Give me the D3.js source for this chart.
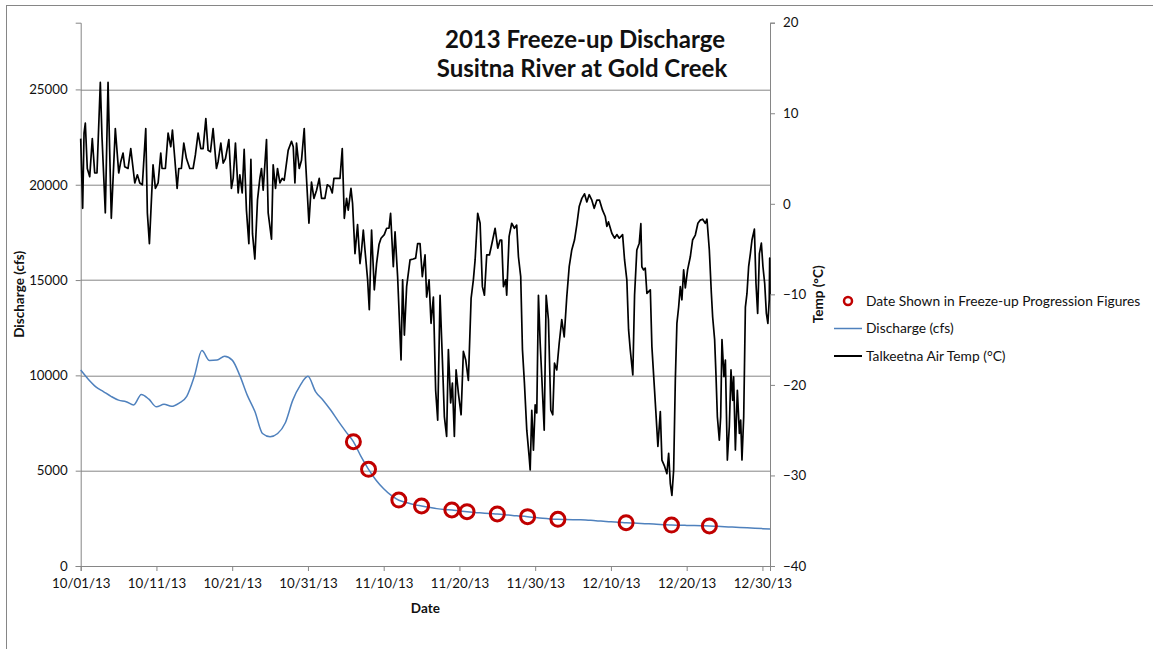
<!DOCTYPE html>
<html>
<head>
<meta charset="utf-8">
<script src="https://cdn.jsdelivr.net/npm/d3@7"></script>
<style>
  body { margin: 0; background: #fff; }
  text { font-family: Lato, "Open Sans", sans-serif; fill: #111; }
</style>
</head>
<body>
<svg id="chart" width="1153" height="649"></svg>
<script>
// ---- data ----
var startDate = new Date(2013, 9, 1);
var endDate = new Date(2013, 11, 31);

var dateTicks = ["10/01/13", "10/11/13", "10/21/13", "10/31/13", "11/10/13",
  "11/20/13", "11/30/13", "12/10/13", "12/20/13", "12/30/13"];
var cfsTicks = [0, 5000, 10000, 15000, 20000, 25000];
var tempTicks = [-40, -30, -20, -10, 0, 10, 20];

// daily discharge (cfs), starting 10/01/13
var flowCfs = [10280, 9800, 9400, 9150, 8900, 8700, 8620, 8450, 9000, 8750,
  8350, 8480, 8380, 8550, 8900, 9950, 11300, 10780, 10800, 11000,
  10800, 10000, 8950, 8100, 6950, 6780, 6950, 7500, 8700, 9490,
  9950, 9150, 8700, 8180, 7600, 7050, 6520, 5750, 5070, 4500,
  4050, 3700, 3450, 3330, 3220, 3150, 3080, 3010, 2960, 2935,
  2890, 2850, 2810, 2780, 2750, 2725, 2690, 2650, 2620, 2585,
  2540, 2500, 2470, 2450, 2440, 2430, 2420, 2400, 2380, 2350,
  2320, 2300, 2270, 2250, 2230, 2210, 2190, 2170, 2150, 2140,
  2130, 2120, 2110, 2100, 2080, 2060, 2040, 2020, 2000, 1980,
  1960, 1940];

// dates shown in freeze-up progression figures (days after 10/01) and discharge
var markDay = [36, 38, 42, 45, 49, 51, 55, 59, 63, 72, 78, 83];
var markCfs = [6520, 5070, 3460, 3150, 2940, 2850, 2730, 2590, 2450, 2270, 2150, 2100];

// Talkeetna air temp: [days after 10/01, deg C]
var tempReadings = [
  [0.00,7.2],[0.26,-0.5],[0.44,7.8],[0.61,8.9],[0.87,3.9],[1.19,3.0],[1.53,7.2],[1.85,3.4],[2.15,3.4],[2.59,13.4],
  [2.81,7.4],[3.25,-1.0],[3.61,13.4],[4.04,-1.6],[4.57,8.3],[5.02,3.4],[5.29,4.65],[5.59,5.6],[5.81,4.1],[6.25,3.9],
  [6.61,6.1],[7.14,2.3],[7.48,3.2],[7.80,2.3],[8.14,2.1],[8.59,8.3],[8.80,-1.0],[9.07,-4.4],[9.55,4.3],[9.86,1.7],
  [10.22,2.3],[10.57,5.6],[10.74,3.9],[11.18,3.9],[11.54,7.8],[11.89,6.3],[12.11,8.15],[12.42,5.0],[12.73,1.7],[12.95,3.9],
  [13.29,3.9],[13.61,6.7],[13.96,5.0],[14.40,3.9],[14.84,3.9],[15.14,5.4],[15.50,7.8],[15.86,6.1],[16.16,6.1],[16.52,9.4],
  [16.82,5.9],[17.13,5.75],[17.48,8.3],[17.92,3.9],[18.14,4.65],[18.50,6.7],[18.81,4.5],[19.11,5.0],[19.56,7.1],[19.90,1.7],
  [20.13,2.8],[20.43,6.7],[20.79,1.2],[21.01,3.2],[21.32,1.2],[21.58,6.0],[21.88,-0.7],[22.20,-4.4],[22.47,4.9],[22.68,-3.3],
  [22.99,-6.1],[23.34,0.4],[23.65,2.8],[23.87,3.9],[24.09,1.5],[24.53,7.1],[24.75,-1.0],[25.19,-3.9],[25.41,4.3],[25.72,1.7],
  [25.98,3.9],[26.30,2.3],[26.60,2.8],[26.87,2.6],[27.39,5.9],[27.83,6.9],[28.06,6.3],[28.28,2.3],[28.49,6.7],[28.85,3.9],
  [29.15,4.8],[29.51,8.3],[29.68,4.8],[30.13,-2.15],[30.47,2.4],[30.79,0.6],[31.14,1.5],[31.49,2.8],[31.80,0.6],[32.24,0.6],
  [32.55,2.1],[32.91,1.9],[33.21,1.2],[33.43,2.8],[33.78,2.8],[34.23,2.8],[34.53,6.1],[34.80,-1.6],[35.10,0.6],[35.32,-0.7],
  [35.68,1.7],[35.89,0.05],[36.21,-5.5],[36.55,-2.3],[36.87,-6.6],[37.08,-5.1],[37.31,-2.9],[37.53,-5.1],[37.88,-8.4],[38.10,-11.7],
  [38.40,-2.9],[38.76,-9.5],[39.06,-6.6],[39.38,-4.5],[39.65,-3.8],[40.08,-3.4],[40.39,-2.7],[40.70,-2.7],[40.91,-1.05],[41.27,-6.95],
  [41.50,-3.1],[41.84,-8.05],[42.29,-17.25],[42.50,-8.4],[42.73,-14.5],[43.03,-9.15],[43.48,-6.2],[43.91,-6.1],[44.22,-6.0],[44.48,-4.4],
  [44.80,-4.4],[45.10,-8.05],[45.46,-5.65],[45.67,-10.3],[45.99,-8.4],[46.25,-13.2],[46.56,-10.3],[46.86,-20.6],[47.13,-23.9],[47.44,-10.1],
  [47.75,-17.25],[48.01,-23.5],[48.31,-25.7],[48.54,-16.1],[48.84,-22.0],[49.07,-19.8],[49.33,-25.7],[49.56,-18.35],[49.86,-20.9],[50.22,-23.3],
  [50.52,-16.3],[50.83,-17.25],[51.18,-19.5],[51.54,-10.45],[51.84,-8.4],[52.07,-6.2],[52.41,-1.05],[52.73,-2.15],[53.03,-9.15],[53.30,-10.1],
  [53.60,-5.65],[53.96,-5.65],[54.26,-4.5],[54.71,-2.7],[55.06,-4.9],[55.37,-4.0],[55.58,-4.0],[55.81,-9.15],[56.11,-8.4],[56.24,-10.1],
  [56.56,-3.6],[56.90,-2.15],[57.26,-2.7],[57.56,-2.35],[57.79,-5.85],[58.09,-8.05],[58.32,-16.1],[58.58,-19.8],[58.89,-25.0],[59.20,-27.9],
  [59.34,-29.4],[59.55,-22.8],[59.77,-27.2],[60.00,-22.2],[60.21,-23.1],[60.43,-10.1],[60.66,-15.4],[60.87,-19.1],[61.19,-25.0],[61.45,-10.1],
  [61.75,-12.8],[62.06,-22.8],[62.32,-23.3],[62.55,-17.6],[62.85,-18.35],[63.17,-15.4],[63.51,-12.8],[63.83,-14.7],[64.17,-10.3],[64.49,-6.95],
  [64.83,-5.1],[65.19,-4.0],[65.49,-2.35],[65.81,-0.3],[66.16,0.6],[66.51,1.1],[66.82,0.2],[67.13,1.0],[67.48,0.4],[67.79,-0.5],
  [68.14,0.4],[68.49,0.4],[68.89,-0.7],[69.25,-1.4],[69.46,-2.5],[69.68,-2.0],[70.12,-3.25],[70.48,-3.8],[70.78,-3.4],[71.10,-3.8],
  [71.54,-3.4],[71.80,-6.2],[72.10,-8.4],[72.33,-13.9],[72.55,-16.1],[72.89,-18.9],[73.12,-10.1],[73.42,-5.1],[73.74,-4.35],[73.95,-2.2],
  [74.08,-6.95],[74.30,-7.3],[74.53,-7.1],[74.75,-9.9],[75.20,-9.5],[75.41,-15.8],[75.76,-20.6],[75.94,-23.1],[76.20,-26.8],[76.52,-22.95],
  [76.73,-28.3],[77.09,-29.0],[77.39,-29.8],[77.62,-27.55],[77.84,-30.9],[78.05,-32.2],[78.28,-29.4],[78.50,-19.5],[78.71,-13.2],[78.94,-11.4],
  [79.16,-9.15],[79.37,-10.6],[79.60,-7.3],[79.82,-9.3],[80.12,-7.3],[80.48,-5.85],[80.78,-4.0],[81.14,-3.45],[81.48,-2.15],[81.80,-1.8],
  [82.11,-1.7],[82.46,-2.15],[82.68,-1.7],[82.99,-5.1],[83.26,-9.9],[83.43,-12.5],[83.69,-15.0],[83.86,-18.7],[84.05,-23.5],[84.31,-26.1],
  [84.49,-23.5],[84.66,-15.0],[84.92,-19.1],[85.11,-17.25],[85.37,-28.3],[85.63,-24.6],[85.85,-18.35],[86.07,-21.7],[86.20,-19.1],[86.43,-27.2],
  [86.69,-20.6],[86.96,-25.35],[87.13,-23.9],[87.30,-28.3],[87.53,-23.5],[87.75,-11.4],[87.96,-9.9],[88.18,-6.95],[88.41,-5.5],[88.62,-4.0],
  [88.94,-2.8],[89.15,-8.8],[89.37,-12.1],[89.60,-5.5],[89.86,-4.35],[90.07,-6.95],[90.30,-8.8],[90.52,-12.1],[90.72,-13.2],[90.90,-10.6],
  [90.96,-6.0],[91.00,-10.0]
];

var seriesNames = ["Date Shown in Freeze-up Progression Figures", "Discharge (cfs)", "Talkeetna Air Temp (\u00b0C)"];

// ---- drawing ----
var svg = d3.select('#chart'),
	margin = { top: 22.7, right: 383, bottom: 83, left: 80.7 },
	width = +svg.attr('width') - margin.left - margin.right,
	height = +svg.attr('height') - margin.top - margin.bottom;

var axisGrey = '#868686', blue = '#4F81BD', red = '#C00000';

// chart-area frame
svg.append('rect')
	.attr('x', 6.5).attr('y', 5.5)
	.attr('width', 1300).attr('height', 800)
	.attr('fill', 'none').attr('stroke', axisGrey).attr('stroke-width', 1);

var g = svg.append('g').attr('transform', 'translate(' + margin.left + ',' + margin.top + ')');

var dayToDate = function (d) { return new Date(startDate.getTime() + d * 864e5); };
var parseTick = d3.timeParse('%m/%d/%y');

var x = d3.scaleTime().domain([startDate, endDate]).range([0, width]);
var yQ = d3.scaleLinear().domain([0, 28500]).range([height, 0]);
var yT = d3.scaleLinear().domain([-40, 20]).range([height, 0]);

// gridlines
g.append('g').selectAll('line')
	.data(cfsTicks.filter(function (v) { return v > 0; }))
	.enter().append('line')
	.attr('x1', 0).attr('x2', width)
	.attr('y1', function (v) { return Math.round(yQ(v)) + 0.5; })
	.attr('y2', function (v) { return Math.round(yQ(v)) + 0.5; })
	.attr('stroke', axisGrey).attr('stroke-width', 1);

function styleAxis(sel) {
	sel.select('.domain').attr('stroke', axisGrey);
	sel.selectAll('.tick line').attr('stroke', axisGrey);
	sel.selectAll('.tick text').attr('font-size', 13.3).attr('fill', '#111');
}

var xAxis = g.append('g')
	.attr('transform', 'translate(0,' + height + ')')
	.call(d3.axisBottom(x).tickValues(dateTicks.map(parseTick)).tickFormat(d3.timeFormat('%m/%d/%y')).tickSizeOuter(0).tickSize(5).tickPadding(8))
	.call(styleAxis);

var leftAxis = g.append('g')
	.call(d3.axisLeft(yQ).tickValues(cfsTicks).tickFormat(d3.format('d')).tickSizeOuter(0).tickSize(5).tickPadding(8))
	.call(styleAxis);

var rightAxis = g.append('g')
	.attr('transform', 'translate(' + width + ',0)')
	.call(d3.axisRight(yT).tickValues(tempTicks).tickFormat(d3.format('d')).tickSizeOuter(0).tickSize(5).tickPadding(8))
	.call(styleAxis);

// temperature line (secondary axis)
var tempLine = d3.line()
	.x(function (d) { return x(dayToDate(d[0])); })
	.y(function (d) { return yT(d[1]); });

g.append('path')
	.datum(tempReadings)
	.attr('fill', 'none')
	.attr('stroke', '#000')
	.attr('stroke-width', 1.7)
	.attr('stroke-linejoin', 'round')
	.attr('d', tempLine);

// discharge line
var flowLine = d3.line()
	.x(function (d, i) { return x(dayToDate(i)); })
	.y(function (d) { return yQ(d); })
	.curve(d3.curveMonotoneX);

g.append('path')
	.datum(flowCfs)
	.attr('fill', 'none')
	.attr('stroke', blue)
	.attr('stroke-width', 1.5)
	.attr('d', flowLine);

// progression markers
g.append('g').selectAll('circle')
	.data(markDay)
	.enter().append('circle')
	.attr('cx', function (d) { return x(dayToDate(d)); })
	.attr('cy', function (d, i) { return yQ(markCfs[i]); })
	.attr('r', 7)
	.attr('fill', 'none')
	.attr('stroke', red)
	.attr('stroke-width', 3);

// axis titles
svg.append('text')
	.attr('transform', 'translate(24,' + (margin.top + height / 2) + ') rotate(-90)')
	.attr('text-anchor', 'middle')
	.attr('font-size', 13.5).attr('font-weight', 'bold')
	.text('Discharge (cfs)');

svg.append('text')
	.attr('transform', 'translate(823,' + (margin.top + height / 2) + ') rotate(-90)')
	.attr('text-anchor', 'middle')
	.attr('font-size', 13.5).attr('font-weight', 'bold')
	.text('Temp (\u00b0C)');

svg.append('text')
	.attr('x', margin.left + width / 2).attr('y', 613)
	.attr('text-anchor', 'middle')
	.attr('font-size', 13.5).attr('font-weight', 'bold')
	.text('Date');

// title
var title = svg.append('text')
	.attr('text-anchor', 'middle')
	.attr('font-size', 24).attr('font-weight', 'bold');
title.append('tspan').attr('x', 585).attr('y', 48).text('2013 Freeze-up Discharge');
title.append('tspan').attr('x', 582).attr('y', 77).text('Susitna River at Gold Creek');

// legend
var legend = svg.append('g').attr('transform', 'translate(834,301)');
var rows = legend.selectAll('g').data(seriesNames).enter().append('g')
	.attr('transform', function (d, i) { return 'translate(0,' + (i * 27.5) + ')'; });

rows.filter(function (d, i) { return i === 0; }).append('circle')
	.attr('cx', 14).attr('cy', 0).attr('r', 4)
	.attr('fill', 'none').attr('stroke', red).attr('stroke-width', 2.5);
rows.filter(function (d, i) { return i > 0; }).append('line')
	.attr('x1', 0).attr('x2', 28).attr('y1', 0).attr('y2', 0)
	.attr('stroke', function (d, i) { return i === 0 ? blue : '#000'; })
	.attr('stroke-width', function (d, i) { return i === 0 ? 1.5 : 2; });
rows.append('text')
	.attr('x', 32).attr('y', 0).attr('dy', '0.35em')
	.attr('font-size', 13.8)
	.text(function (d) { return d; });
</script>
</body>
</html>
